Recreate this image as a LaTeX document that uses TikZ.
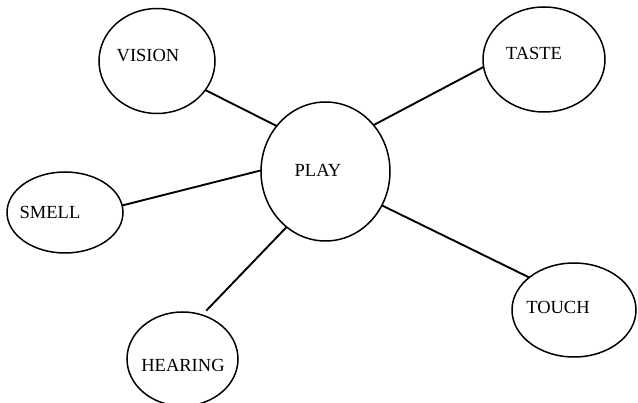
\documentclass[tikz,border=0pt]{standalone}
\usepackage{fontspec}
\setmainfont{Liberation Serif}
\usetikzlibrary{shapes.geometric}

\tikzset{
  sense/.style={ellipse, draw, line width=1.5pt, inner sep=0pt, outer sep=0pt},
  sensetext/.style={font=\fontsize{18.5}{20}\selectfont, inner sep=0pt},
  link/.style={line width=1.9pt}
}

\begin{document}
\begin{tikzpicture}[x=1pt, y=-1pt]
  \useasboundingbox (0,0) rectangle (638,403);
  % circles
  \node[sense, minimum width=116pt, minimum height=105pt] (vision) at (157,61) {};
  \node[sense, minimum width=122pt, minimum height=105pt] (taste) at (544,59.5) {};
  \node[sense, minimum width=129pt, minimum height=139pt] (play) at (325.5,171.5) {};
  \node[sense, minimum width=116pt, minimum height=81pt] (smell) at (65,212.5) {};
  \node[sense, minimum width=111pt, minimum height=94pt] (hearing) at (182.5,359) {};
  \node[sense, minimum width=124pt, minimum height=94pt] (touch) at (574,310) {};
  % labels
  \node[sensetext] (visiontxt) at (148,56) {VISION};
  \node[sensetext] (tastetxt) at (534,53) {TASTE};
  \node[sensetext] (playtxt) at (318,170) {PLAY};
  \node[sensetext] (smelltxt) at (50,212) {SMELL};
  \node[sensetext] (hearingtxt) at (183,365) {HEARING};
  \node[sensetext] (touchtxt) at (558,307) {TOUCH};
  % links
  \draw[link] (vision.-31.3) -- (play.137.9);
  \draw[link] (taste.-173.9) -- (play.44.4);
  \draw[link] (smell.7.4) -- (play.179.6);
  \draw[link, shorten <=6pt] (hearing.66.2) -- (play.-125.2);
  \draw[link] (play.-31.8) -- (touch.144.8);
\end{tikzpicture}
\end{document}
